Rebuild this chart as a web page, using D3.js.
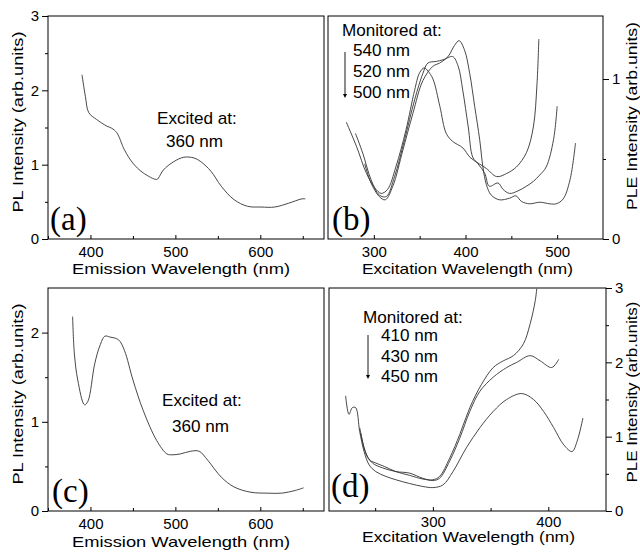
<!DOCTYPE html>
<html>
<head>
<meta charset="utf-8">
<script src="https://cdn.jsdelivr.net/npm/d3@7"></script>
<style>
body { margin: 0; background: #fff; }
svg text { font-family: "Liberation Sans", Arial, sans-serif; fill: #000; }
</style>
</head>
<body>
<div id="vis"></div>
<script>
const FRAME_WIDTH = 640;
const FRAME_HEIGHT = 552;

// (a) PL, excited at 360 nm
const aWl = [390, 394, 398, 407, 419, 425, 431, 440, 450, 462, 478, 480, 486, 498, 510, 522, 530, 542, 554, 569, 585, 601, 617, 633, 649, 653];
const aPL = [2.21, 1.92, 1.70, 1.61, 1.52, 1.49, 1.43, 1.20, 1.02, 0.89, 0.80, 0.82, 0.93, 1.04, 1.10, 1.09, 1.04, 0.91, 0.71, 0.53, 0.44, 0.43, 0.43, 0.48, 0.54, 0.54];

// (b) PLE, monitored at 540 / 520 / 500 nm
const b540Wl = [290, 297, 306, 312.5, 320.7, 331.7, 342.6, 353.5, 364.5, 371.8, 380.9, 388, 393, 399, 404.6, 410, 415.5, 419, 422.8, 428, 437, 448, 455, 461, 470, 481, 492, 499, 506.5, 514, 520];
const b540 = [0.47, 0.35, 0.265, 0.245, 0.33, 0.556, 0.785, 0.99, 1.08, 1.10, 1.14, 1.21, 1.24, 1.18, 1.035, 0.83, 0.62, 0.45, 0.34, 0.275, 0.245, 0.255, 0.27, 0.235, 0.22, 0.23, 0.22, 0.22, 0.25, 0.37, 0.60];
const b520Wl = [280, 288, 297, 306, 313.5, 322.6, 333.5, 344.5, 353.5, 359, 368, 375.4, 386, 392, 397, 403, 408, 413.7, 421, 426, 435.5, 441, 448, 457, 466.5, 474, 481, 488, 496, 500];
const b520 = [0.66, 0.535, 0.37, 0.275, 0.265, 0.39, 0.62, 0.87, 1.035, 1.10, 1.11, 1.12, 1.14, 1.08, 0.93, 0.70, 0.51, 0.47, 0.41, 0.33, 0.35, 0.31, 0.285, 0.30, 0.33, 0.36, 0.40, 0.45, 0.62, 0.83];
const b500Wl = [270, 281, 292, 301, 308, 315, 324, 335, 344.5, 350, 355, 359, 364.5, 372, 379, 386, 397, 405, 415, 423, 434, 445, 455.5, 466.5, 474, 478, 480];
const b500 = [0.73, 0.58, 0.41, 0.32, 0.285, 0.31, 0.45, 0.68, 0.93, 1.04, 1.07, 1.05, 1.0, 0.83, 0.66, 0.61, 0.57, 0.51, 0.47, 0.44, 0.39, 0.41, 0.45, 0.54, 0.70, 0.97, 1.25];

// (c) PL, excited at 360 nm
const cWl = [379, 381, 385, 393, 397, 405, 411, 417, 423, 433, 440, 450, 462, 478, 490, 496, 506, 518, 528, 538, 554, 569, 589, 609, 625, 641, 651];
const cPL = [2.18, 1.77, 1.47, 1.19, 1.23, 1.65, 1.85, 1.96, 1.95, 1.92, 1.80, 1.47, 1.13, 0.79, 0.64, 0.63, 0.64, 0.67, 0.67, 0.57, 0.38, 0.27, 0.21, 0.20, 0.20, 0.23, 0.26];

// (d) PLE, monitored at 410 / 430 / 450 nm
const d410Wl = [236.6, 240.4, 244.8, 250.6, 257.8, 268, 279.7, 291.3, 300, 305.8, 314.5, 323.3, 332, 342, 352.3, 361, 369.8, 378.5, 384.3, 388.7, 390];
const d410 = [1.12, 0.85, 0.69, 0.645, 0.60, 0.53, 0.48, 0.43, 0.42, 0.465, 0.71, 1.03, 1.39, 1.70, 1.93, 2.02, 2.09, 2.25, 2.52, 2.83, 2.99];
const d430Wl = [237.5, 241.9, 247.7, 256.4, 268, 279.7, 291.3, 300, 305.8, 314.5, 323.3, 332, 340.7, 352.3, 363.9, 372.7, 384.3, 393, 403, 409];
const d430 = [1.05, 0.78, 0.645, 0.58, 0.53, 0.51, 0.44, 0.41, 0.44, 0.67, 0.98, 1.34, 1.61, 1.80, 1.93, 2.00, 2.09, 2.02, 1.93, 2.04];
const d450Wl = [224.4, 227.3, 230.2, 233.1, 236.6, 240.4, 244.8, 250.6, 259.3, 268, 279.7, 291.3, 300, 308.7, 317.4, 329, 340.7, 352.3, 363.9, 377, 387.2, 395.9, 404.7, 413.4, 420.6, 425, 430];
const d450 = [1.55, 1.30, 1.39, 1.39, 1.07, 0.80, 0.62, 0.53, 0.465, 0.42, 0.37, 0.33, 0.315, 0.35, 0.53, 0.85, 1.12, 1.34, 1.50, 1.58, 1.50, 1.34, 1.12, 0.89, 0.80, 0.94, 1.25];

const FRAME = d3.select("#vis")
    .append("svg")
    .attr("width", FRAME_WIDTH)
    .attr("height", FRAME_HEIGHT);

// draws one boxed panel with its axes, curves and notes
function drawPanel(p) {
    const X_SCALE = d3.scaleLinear().domain(p.xDomain).range([p.left, p.right]);
    const Y_SCALE = d3.scaleLinear().domain(p.yDomain).range([p.bottom, p.top]);

    const clipId = "clip" + p.label.replace(/\W/g, "");
    FRAME.append("clipPath").attr("id", clipId)
        .append("rect")
        .attr("x", p.left).attr("y", p.top)
        .attr("width", p.right - p.left).attr("height", p.bottom - p.top);

    // curves
    const line = d3.line()
        .x((d) => X_SCALE(d[0]))
        .y((d) => Y_SCALE(d[1]))
        .curve(d3.curveCatmullRom.alpha(0.5));
    p.series.forEach((s) => {
        FRAME.append("path")
            .datum(s.x.map((v, i) => [v, s.y[i]]))
            .attr("clip-path", "url(#" + clipId + ")")
            .attr("d", line)
            .attr("fill", "none")
            .attr("stroke", "#333")
            .attr("stroke-width", 0.9);
    });

    // frame
    FRAME.append("rect")
        .attr("x", p.left).attr("y", p.top)
        .attr("width", p.right - p.left).attr("height", p.bottom - p.top)
        .attr("fill", "none").attr("stroke", "#000").attr("stroke-width", 1);

    // bottom axis
    const xAxis = FRAME.append("g")
        .attr("transform", "translate(0," + p.bottom + ")")
        .call(d3.axisBottom(X_SCALE).tickValues(p.xMajor).tickSize(-4).tickPadding(p.xPad));
    FRAME.append("g")
        .attr("transform", "translate(0," + p.bottom + ")")
        .call(d3.axisBottom(X_SCALE).tickValues(p.xMinor).tickSize(-3).tickFormat(""));

    // side axis
    const axisFn = p.side === "left" ? d3.axisLeft : d3.axisRight;
    const xPos = p.side === "left" ? p.left : p.right;
    const yAxis = FRAME.append("g")
        .attr("transform", "translate(" + xPos + ",0)")
        .call(axisFn(Y_SCALE).tickValues(p.yMajor).tickSize(6).tickPadding(3).tickFormat(d3.format("d")));
    FRAME.append("g")
        .attr("transform", "translate(" + xPos + ",0)")
        .call(axisFn(Y_SCALE).tickValues(p.yMinor).tickSize(3).tickFormat(""));

    FRAME.selectAll(".domain").remove();
    [xAxis, yAxis].forEach((g) => {
        g.selectAll("text")
            .attr("fill", "#000")
            .style("font-size", "15px");
    });

    // axis titles
    FRAME.append("text")
        .attr("x", (p.left + p.right) / 2 + p.xTitleShift)
        .attr("y", p.xTitleY)
        .attr("text-anchor", "middle")
        .style("font-size", "15px")
        .attr("textLength", p.xTitleLen)
        .attr("lengthAdjust", "spacingAndGlyphs")
        .text(p.xTitle);

    FRAME.append("text")
        .attr("transform", "translate(" + p.yTitleX + "," + p.yTitleMid + ") rotate(-90)")
        .attr("text-anchor", "middle")
        .style("font-size", "15.5px")
        .attr("textLength", p.yTitleLen)
        .attr("lengthAdjust", "spacingAndGlyphs")
        .text(p.yTitle);

    // panel letter
    FRAME.append("text")
        .attr("x", p.labelX).attr("y", p.labelY)
        .style("font-family", "'Liberation Serif', 'Times New Roman', serif")
        .style("font-size", "33px")
        .text(p.label);

    // notes, a little wider than the plain font like the scanned figure
    p.notes.forEach((n) => {
        FRAME.append("text")
            .attr("transform", "translate(" + n[0] + "," + n[1] + ") scale(1.07,1)")
            .style("font-size", "16px")
            .text(n[2]);
    });

    if (p.arrow) {
        const [ax, ay0, ay1] = p.arrow;
        FRAME.append("line")
            .attr("x1", ax).attr("x2", ax)
            .attr("y1", ay0).attr("y2", ay1 - 3)
            .attr("stroke", "#000").attr("stroke-width", 0.9);
        FRAME.append("path")
            .attr("d", "M" + (ax - 2) + "," + (ay1 - 4) + "L" + (ax + 2) + "," + (ay1 - 4) + "L" + ax + "," + ay1 + "Z")
            .attr("fill", "#000");
    }
}

drawPanel({
    label: "(a)", labelX: 50, labelY: 230,
    left: 48, right: 324, top: 16, bottom: 239,
    xDomain: [350, 675], yDomain: [0, 3],
    xMajor: [400, 500, 600], xMinor: [350, 450, 550, 650], xPad: 7.5,
    yMajor: [0, 1, 2, 3], yMinor: [0.5, 1.5, 2.5],
    side: "left",
    xTitle: "Emission Wavelength (nm)", xTitleY: 274, xTitleLen: 218, xTitleShift: -5,
    yTitle: "PL Intensity (arb.units)", yTitleX: 23, yTitleMid: 122, yTitleLen: 181,
    series: [{x: aWl, y: aPL}],
    notes: [[157, 124, "Excited at:"], [166, 147, "360 nm"]]
});

drawPanel({
    label: "(b)", labelX: 332, labelY: 230,
    left: 328, right: 603, top: 16, bottom: 239,
    xDomain: [250, 550], yDomain: [0, 1.394],
    xMajor: [300, 400, 500], xMinor: [350, 450], xPad: 7.5,
    yMajor: [0, 1], yMinor: [0.5],
    side: "right",
    xTitle: "Excitation Wavelength (nm)", xTitleY: 274, xTitleLen: 211, xTitleShift: 2,
    yTitle: "PLE Intensity (arb.units)", yTitleX: 637, yTitleMid: 116, yTitleLen: 188,
    series: [{x: b540Wl, y: b540}, {x: b520Wl, y: b520}, {x: b500Wl, y: b500}],
    notes: [[342, 36, "Monitored at:"], [353, 56, "540 nm"], [353, 77, "520 nm"], [353, 98, "500 nm"]],
    arrow: [345, 52, 98]
});

drawPanel({
    label: "(c)", labelX: 52, labelY: 502,
    left: 48, right: 324, top: 288, bottom: 511,
    xDomain: [350, 675], yDomain: [0, 2.5],
    xMajor: [400, 500, 600], xMinor: [350, 450, 550, 650], xPad: 7.5,
    yMajor: [0, 1, 2], yMinor: [0.5, 1.5],
    side: "left",
    xTitle: "Emission Wavelength (nm)", xTitleY: 547, xTitleLen: 218, xTitleShift: -5,
    yTitle: "PL Intensity (arb.units)", yTitleX: 23, yTitleMid: 394, yTitleLen: 181,
    series: [{x: cWl, y: cPL}],
    notes: [[162, 406, "Excited at:"], [172, 432, "360 nm"]]
});

drawPanel({
    label: "(d)", labelX: 331, labelY: 497,
    left: 329, right: 606, top: 288, bottom: 511,
    xDomain: [210, 450], yDomain: [0, 3],
    xMajor: [300, 400], xMinor: [250, 350], xPad: 5,
    yMajor: [0, 1, 2, 3], yMinor: [0.5, 1.5, 2.5],
    side: "right",
    xTitle: "Excitation Wavelength (nm)", xTitleY: 542, xTitleLen: 213, xTitleShift: 1,
    yTitle: "PLE Intensity (arb.units)", yTitleX: 637, yTitleMid: 392, yTitleLen: 181,
    series: [{x: d410Wl, y: d410}, {x: d430Wl, y: d430}, {x: d450Wl, y: d450}],
    notes: [[363, 323, "Monitored at:"], [381, 341, "410 nm"], [381, 362, "430 nm"], [381, 382, "450 nm"]],
    arrow: [368, 335, 379]
});
</script>
</body>
</html>
